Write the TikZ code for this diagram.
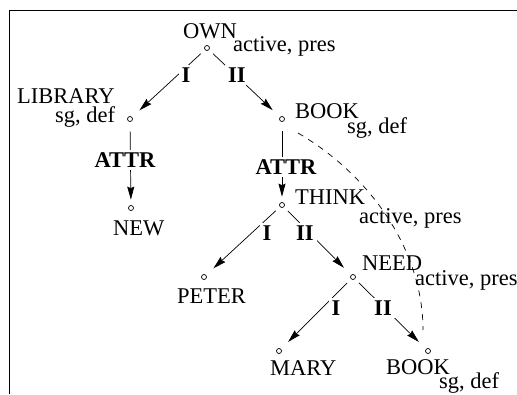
\documentclass[tikz,border=0pt]{standalone}
\usepackage{fontspec}
\setmainfont{Liberation Serif}
\usetikzlibrary{arrows.meta}
\tikzset{
  pt/.style={circle,draw,line width=0.7pt,minimum size=5pt,inner sep=0pt},
  txt/.style={anchor=base west,inner sep=0pt,font=\fontsize{22.5}{27}\selectfont},
  lab/.style={fill=white,inner sep=3pt,font=\fontsize{22.5}{27}\selectfont\bfseries},
  edg/.style={line width=0.7pt,-{Stealth[length=13pt,width=7pt,inset=1.5pt]}},
  diag/.style={edg,shorten <=5.5pt,shorten >=10pt},
  vert/.style={edg,shorten <=9.5pt,shorten >=5.5pt},
  rel/.style={line width=0.7pt,dash pattern=on 6pt off 6pt}
}
\begin{document}
\begin{tikzpicture}[x=1pt,y=-1pt]
\useasboundingbox (0,0) rectangle (517,394);
\coordinate (fr1) at (517,10);
\coordinate (fr2) at (9,10);
\coordinate (fr3) at (9,394);
\draw[line width=0.9pt] (fr1) -- (fr2) -- (fr3);

% points
\node[pt] (own) at (207,48) {};
\node[pt] (lib) at (130,119) {};
\node[pt] (book) at (282,119) {};
\node[pt] (new) at (131,208) {};
\node[pt] (think) at (282,205) {};
\node[pt] (peter) at (204,277) {};
\node[pt] (need) at (353,277) {};
\node[pt] (mary) at (279,351) {};
\node[pt] (book2) at (428,351) {};

% texts
\node[txt] (townn) at (183,38) {OWN};
\node[txt] (towna) at (233,51) {active, pres};
\node[txt] (tlibn) at (17,103) {LIBRARY};
\node[txt] (tliba) at (55,122) {sg, def};
\node[txt] (tbookn) at (295,118) {BOOK};
\node[txt] (tbooka) at (347,133) {sg, def};
\node[txt] (tnew) at (113,235) {NEW};
\node[txt] (tthinkn) at (295,204) {THINK};
\node[txt] (tthinka) at (359,223) {active, pres};
\node[txt] (tpeter) at (177,303) {PETER};
\node[txt] (tneedn) at (362,270) {NEED};
\node[txt] (tneeda) at (415,285) {active, pres};
\node[txt] (tmary) at (270,375) {MARY};
\node[txt] (tbook2n) at (386,374) {BOOK};
\node[txt] (tbook2a) at (439,388) {sg, def};

% edges
\draw[diag] (own) -- (lib);
\draw[diag] (own) -- (book);
\draw[vert] (lib) -- (new);
\draw[vert] (book) -- (think);
\draw[diag] (think) -- (peter);
\draw[diag] (think) -- (need);
\draw[diag] (need) -- (mary);
\draw[diag] (need) -- (book2);

% labels
\node[lab] (l1) at (186,75) {I};
\node[lab] (l2) at (237,75) {II};
\node[lab] (l3) at (125,160) {ATTR};
\node[lab] (l4) at (286,167) {ATTR};
\node[lab] (l5) at (267,233) {I};
\node[lab] (l6) at (305,233) {II};
\node[lab] (l7) at (336,308) {I};
\node[lab] (l8) at (383,308) {II};

% coreference
\coordinate (ds) at (298,133);
\coordinate (de) at (423,330);
\draw[rel] (ds) .. controls (370,175) and (423,250) .. (de);
\end{tikzpicture}
\end{document}
